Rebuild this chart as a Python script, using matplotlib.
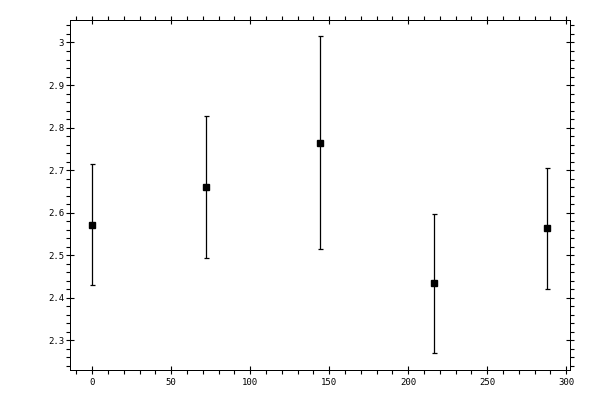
import matplotlib
matplotlib.use("Agg")
import matplotlib.pyplot as plt
from matplotlib.ticker import MultipleLocator

# values
x_vals = [0, 72, 144, 216, 288]
y_vals = [2.572, 2.660, 2.765, 2.434, 2.563]
y_err = [0.142, 0.167, 0.250, 0.164, 0.142]

plt.rcParams['font.family'] = ['DejaVu Sans Mono']

fig = plt.figure(figsize=(6, 4), dpi=100)
ax = fig.add_axes([69.5 / 600, 1 - 370 / 400, (570 - 69.5) / 600, (370 - 19.5) / 400])

ax.errorbar(x_vals, y_vals, yerr=y_err, fmt='s', color='black',
            markersize=5, elinewidth=0.9, capsize=1.8, capthick=0.9)

ax.set_xlim(-14.4, 302.4)
ax.set_ylim(2.2305, 3.054)

ax.xaxis.set_major_locator(MultipleLocator(50))
ax.xaxis.set_minor_locator(MultipleLocator(10))
ax.yaxis.set_major_locator(MultipleLocator(0.1))
ax.yaxis.set_minor_locator(MultipleLocator(0.02))
ax.yaxis.set_major_formatter(plt.FuncFormatter(lambda v, p: f"{v:g}"))

for s in ax.spines.values():
    s.set_linewidth(0.72)

ax.tick_params(which='major', direction='inout', length=6, width=0.8,
               top=True, right=True, labelsize=6.5)
ax.tick_params(which='minor', direction='out', length=3, width=0.8,
               top=True, right=True)
ax.tick_params(axis='y', which='major', pad=1)
ax.tick_params(axis='x', which='major', pad=3)

fig.savefig("out.png", dpi=100)
